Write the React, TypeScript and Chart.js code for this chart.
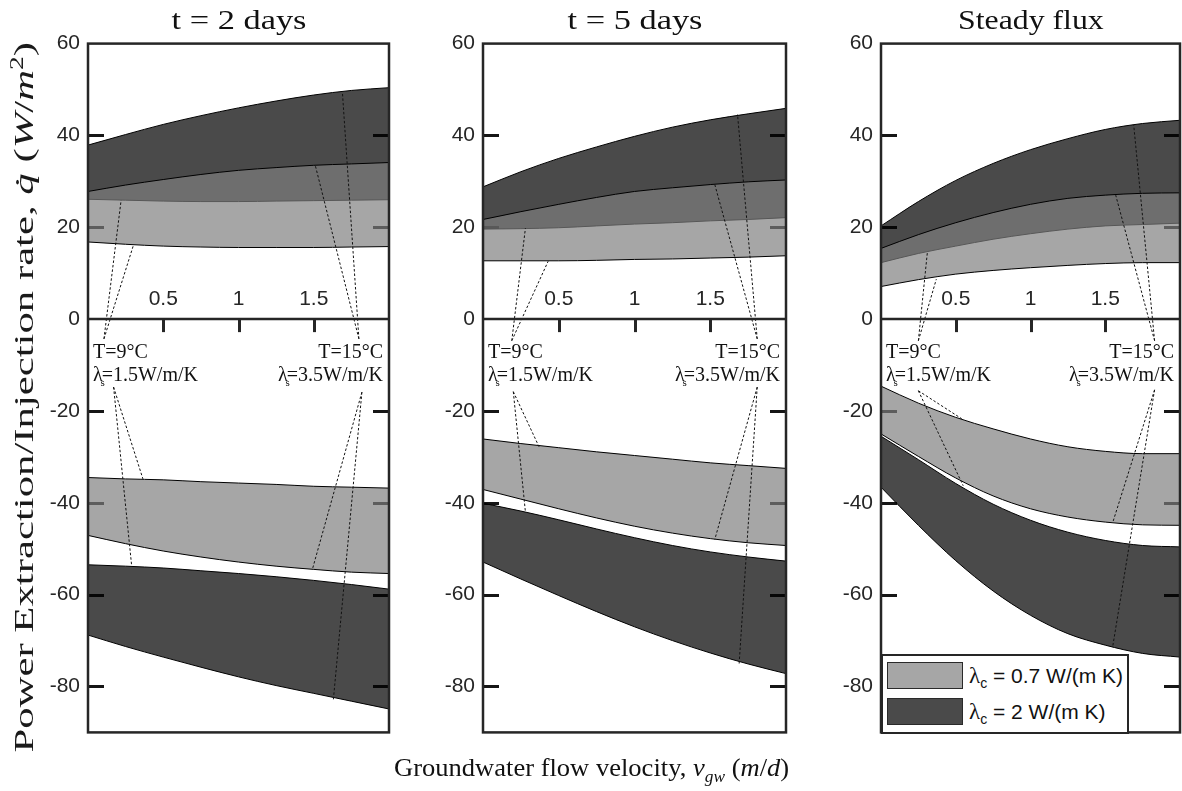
import React, { useEffect, useLayoutEffect, useRef } from "react";
import { Chart, registerables } from "chart.js";
Chart.register(...registerables);

// ---------- data ----------
const X_VALUES = [0, 0.25, 0.5, 0.75, 1, 1.25, 1.5, 1.75, 2];
const X_TICKS = [0.5, 1, 1.5];
const Y_TICKS = [-80, -60, -40, -20, 0, 20, 40, 60];
const Y_MIN = -90;
const Y_MAX = 60;

const TITLES = ["t = 2 days", "t = 5 days", "Steady flux"];

// t = 2 days
const P1_LIGHT_POS_UPPER = [27.8, 29.2, 30.4, 31.5, 32.4, 33.0, 33.5, 33.8, 34.1];
const P1_LIGHT_POS_LOWER = [16.8, 16.3, 15.9, 15.7, 15.6, 15.6, 15.6, 15.7, 15.8];
const P1_DARK_POS_UPPER = [37.9, 40.2, 42.4, 44.3, 46.0, 47.5, 48.8, 49.8, 50.4];
const P1_DARK_POS_LOWER = [26.1, 25.9, 25.7, 25.6, 25.6, 25.7, 25.8, 25.9, 26.0];
const P1_LIGHT_NEG_UPPER = [-34.5, -34.8, -35.0, -35.4, -35.7, -36.0, -36.4, -36.6, -36.8];
const P1_LIGHT_NEG_LOWER = [-47.1, -48.9, -50.5, -51.8, -52.9, -53.8, -54.5, -55.1, -55.4];
const P1_DARK_NEG_UPPER = [-53.5, -53.8, -54.2, -54.8, -55.4, -56.1, -56.9, -57.8, -58.8];
const P1_DARK_NEG_LOWER = [-68.8, -71.3, -73.6, -75.8, -77.9, -79.8, -81.5, -83.2, -84.9];

// t = 5 days
const P2_LIGHT_POS_UPPER = [21.7, 23.4, 25.0, 26.5, 27.8, 28.6, 29.3, 29.9, 30.3];
const P2_LIGHT_POS_LOWER = [12.7, 12.7, 12.7, 12.8, 13.0, 13.1, 13.3, 13.5, 13.8];
const P2_DARK_POS_UPPER = [28.8, 32.1, 35.0, 37.5, 39.8, 41.8, 43.4, 44.7, 45.9];
const P2_DARK_POS_LOWER = [19.6, 19.7, 19.9, 20.3, 20.7, 21.0, 21.4, 21.7, 22.1];
const P2_LIGHT_NEG_UPPER = [-26.1, -27.1, -28.0, -28.9, -29.7, -30.5, -31.3, -31.9, -32.5];
const P2_LIGHT_NEG_LOWER = [-37.1, -39.2, -41.3, -43.3, -45.1, -46.6, -47.8, -48.7, -49.3];
const P2_DARK_NEG_UPPER = [-40.1, -41.8, -43.7, -45.7, -47.6, -49.3, -50.7, -51.8, -52.7];
const P2_DARK_NEG_LOWER = [-52.9, -56.6, -60.2, -63.7, -67.0, -70.0, -72.7, -75.1, -77.2];

// steady flux
const P3_LIGHT_POS_UPPER = [15.4, 18.4, 21.0, 23.2, 25.0, 26.3, 27.0, 27.4, 27.5];
const P3_LIGHT_POS_LOWER = [7.1, 8.6, 9.8, 10.6, 11.2, 11.7, 12.1, 12.3, 12.3];
const P3_DARK_POS_UPPER = [20.3, 25.6, 30.2, 33.9, 36.9, 39.3, 41.3, 42.6, 43.3];
const P3_DARK_POS_LOWER = [12.3, 14.3, 15.9, 17.4, 18.6, 19.6, 20.3, 20.6, 20.9];
const P3_LIGHT_NEG_UPPER = [-14.6, -18.3, -21.4, -23.9, -26.1, -27.8, -28.8, -29.3, -29.3];
const P3_LIGHT_NEG_LOWER = [-25.0, -29.9, -34.6, -38.5, -41.3, -43.1, -44.2, -44.8, -44.9];
const P3_DARK_NEG_UPPER = [-25.5, -30.6, -35.8, -40.3, -43.8, -46.4, -48.2, -49.3, -49.6];
const P3_DARK_NEG_LOWER = [-36.6, -44.9, -52.6, -59.2, -64.5, -68.5, -71.0, -72.8, -73.6];

// leader lines: [xFrom, yFrom, xTo, yTo] in data units
const P1_LEADERS = [
  [0.106, -4.3, 0.22, 25.9], [0.106, -4.3, 0.30, 15.9],
  [0.17, -14.8, 0.365, -34.8], [0.17, -14.8, 0.29, -53.7],
  [1.80, -4.3, 1.51, 33.5], [1.80, -4.3, 1.69, 49.6],
  [1.82, -15.9, 1.49, -54.6], [1.82, -15.9, 1.63, -83.0],
];
const P2_LEADERS = [
  [0.19, -4.7, 0.28, 19.8], [0.19, -4.7, 0.43, 12.6],
  [0.20, -15.8, 0.37, -27.8], [0.20, -15.8, 0.28, -42.0],
  [1.81, -4.3, 1.53, 29.3], [1.81, -4.3, 1.68, 44.6],
  [1.81, -14.8, 1.53, -48.0], [1.81, -14.8, 1.69, -75.4],
];
const P3_LEADERS = [
  [0.25, -4.7, 0.31, 14.5], [0.25, -4.7, 0.37, 8.7],
  [0.25, -15.6, 0.54, -21.7], [0.25, -15.6, 0.55, -36.3],
  [1.83, -4.7, 1.57, 27.0], [1.83, -4.7, 1.69, 42.4],
  [1.83, -15.4, 1.55, -44.3], [1.83, -15.4, 1.55, -71.3],
];

const LABEL_T_LEFT = "T=9°C";
const LABEL_T_RIGHT = "T=15°C";
const LABEL_L_LEFT = "=1.5W/m/K";
const LABEL_L_RIGHT = "=3.5W/m/K";
const LABEL_T_Y = -8.5;
const LABEL_L_Y = -13.5;

const LEGEND_LABELS = ["0.7 W/(m K)", "2 W/(m K)"];

// ---------- styles ----------
const LIGHT_FILL = "rgba(126,126,126,0.69)";
const DARK_FILL = "rgba(0,0,0,0.71)";
const AXIS_COLOR = "#262626";
const TICK_COLOR = "#161616";

const PANELS = [
  {
    left: 88, width: 301, title: TITLES[0], titleW: 135, leaders: P1_LEADERS,
    series: [P1_LIGHT_POS_UPPER, P1_LIGHT_POS_LOWER, P1_LIGHT_NEG_UPPER, P1_LIGHT_NEG_LOWER,
      P1_DARK_POS_UPPER, P1_DARK_POS_LOWER, P1_DARK_NEG_UPPER, P1_DARK_NEG_LOWER],
  },
  {
    left: 483, width: 303, title: TITLES[1], titleW: 135, leaders: P2_LEADERS,
    series: [P2_LIGHT_POS_UPPER, P2_LIGHT_POS_LOWER, P2_LIGHT_NEG_UPPER, P2_LIGHT_NEG_LOWER,
      P2_DARK_POS_UPPER, P2_DARK_POS_LOWER, P2_DARK_NEG_UPPER, P2_DARK_NEG_LOWER],
  },
  {
    left: 881, width: 299, title: TITLES[2], titleW: 146, leaders: P3_LEADERS,
    series: [P3_LIGHT_POS_UPPER, P3_LIGHT_POS_LOWER, P3_LIGHT_NEG_UPPER, P3_LIGHT_NEG_LOWER,
      P3_DARK_POS_UPPER, P3_DARK_POS_LOWER, P3_DARK_NEG_UPPER, P3_DARK_NEG_LOWER],
  },
];

const PLOT_TOP = 43;
const PLOT_BOTTOM = 733;
const AXIS_W = 60;
const PAD_V = 20;
const PAD_R = 4;

function drawLambdaLabel(ctx: CanvasRenderingContext2D, x: number, y: number, rest: string, align: "left" | "right") {
  ctx.font = '20px "Liberation Serif"';
  const wl = ctx.measureText("λ").width;
  const wr = ctx.measureText(rest).width;
  ctx.font = '11px "Liberation Serif"';
  const ws = ctx.measureText("s").width;
  const total = wl + wr - 1;
  const x0 = align === "left" ? x : x - total;
  ctx.textAlign = "left";
  ctx.textBaseline = "alphabetic";
  ctx.font = '20px "Liberation Serif"';
  ctx.fillText("λ", x0, y);
  ctx.fillText(rest, x0 + wl - 1, y);
  ctx.font = '11px "Liberation Serif"';
  ctx.fillText("s", x0 + wl - ws * 0.5, y + 5);
}

function makePlugin(panel: any) {
  return {
    id: "matlabFrame",
    beforeDatasetsDraw(chart: any) {
      const { ctx, chartArea } = chart;
      const ys = chart.scales.y;
      ctx.save();
      ctx.strokeStyle = TICK_COLOR;
      ctx.lineWidth = 3;
      Y_TICKS.forEach((v) => {
        if (v === 0 || v === Y_MAX) return;
        const py = Math.round(ys.getPixelForValue(v)) + 0.5;
        ctx.beginPath();
        ctx.moveTo(chartArea.left, py);
        ctx.lineTo(chartArea.left + 16, py);
        ctx.moveTo(chartArea.right - 16, py);
        ctx.lineTo(chartArea.right, py);
        ctx.stroke();
      });
      ctx.restore();
    },
    afterDatasetsDraw(chart: any) {
      const { ctx, chartArea } = chart;
      const xs = chart.scales.x;
      const ys = chart.scales.y;
      const zeroY = ys.getPixelForValue(0);
      ctx.save();
      // leaders
      ctx.strokeStyle = "#111";
      ctx.lineWidth = 1;
      ctx.setLineDash([2.5, 2]);
      panel.leaders.forEach((l: number[]) => {
        ctx.beginPath();
        ctx.moveTo(xs.getPixelForValue(l[0]), ys.getPixelForValue(l[1]));
        ctx.lineTo(xs.getPixelForValue(l[2]), ys.getPixelForValue(l[3]));
        ctx.stroke();
      });
      ctx.setLineDash([]);
      // zero axis line and ticks
      ctx.strokeStyle = AXIS_COLOR;
      ctx.lineWidth = 2.5;
      ctx.beginPath();
      ctx.moveTo(chartArea.left, zeroY);
      ctx.lineTo(chartArea.right, zeroY);
      ctx.stroke();
      ctx.lineWidth = 3;
      X_TICKS.forEach((v) => {
        const px = Math.round(xs.getPixelForValue(v)) + 0.5;
        ctx.beginPath();
        ctx.moveTo(px, zeroY);
        ctx.lineTo(px, zeroY + 13);
        ctx.stroke();
      });
      // x tick labels
      ctx.fillStyle = AXIS_COLOR;
      ctx.font = '21px "Liberation Sans"';
      ctx.textAlign = "center";
      ctx.textBaseline = "middle";
      X_TICKS.forEach((v) => {
        ctx.fillText(String(v), xs.getPixelForValue(v), zeroY - 20);
      });
      // annotation texts
      ctx.fillStyle = "#111";
      ctx.font = '20px "Liberation Serif"';
      ctx.textBaseline = "alphabetic";
      const tY = ys.getPixelForValue(LABEL_T_Y);
      const lY = ys.getPixelForValue(LABEL_L_Y);
      ctx.textAlign = "left";
      ctx.fillText(LABEL_T_LEFT, chartArea.left + 5, tY);
      ctx.textAlign = "right";
      ctx.fillText(LABEL_T_RIGHT, chartArea.right - 6, tY);
      drawLambdaLabel(ctx, chartArea.left + 5, lY, LABEL_L_LEFT, "left");
      drawLambdaLabel(ctx, chartArea.right - 6, lY, LABEL_L_RIGHT, "right");
      // frame
      ctx.strokeStyle = AXIS_COLOR;
      ctx.lineWidth = 2.5;
      ctx.strokeRect(chartArea.left, chartArea.top, chartArea.right - chartArea.left, chartArea.bottom - chartArea.top);
      ctx.restore();
    },
  };
}

function PanelChart({ panel }: { panel: any }) {
  const ref = useRef<HTMLCanvasElement>(null);
  const cw = AXIS_W + panel.width + PAD_R;
  const ch = PLOT_BOTTOM - PLOT_TOP + 2 * PAD_V;
  useEffect(() => {
    const canvas = ref.current!;
    const pts = (arr: number[]) => X_VALUES.map((x, i) => ({ x, y: arr[i] }));
    const s = panel.series;
    const mk = (arr: number[], fill: any, bg: string) => ({
      data: pts(arr),
      borderColor: "#000",
      borderWidth: 1,
      pointRadius: 0,
      cubicInterpolationMode: "monotone",
      fill,
      backgroundColor: bg,
    });
    const chart = new Chart(canvas, {
      type: "line",
      data: {
        datasets: [
          mk(s[0], false, LIGHT_FILL),
          mk(s[1], "-1", LIGHT_FILL),
          mk(s[2], false, LIGHT_FILL),
          mk(s[3], "-1", LIGHT_FILL),
          mk(s[4], false, DARK_FILL),
          mk(s[5], "-1", DARK_FILL),
          mk(s[6], false, DARK_FILL),
          mk(s[7], "-1", DARK_FILL),
        ] as any,
      },
      options: {
        responsive: false,
        animation: false,
        devicePixelRatio: 1,
        layout: { padding: { top: PAD_V, bottom: PAD_V, left: 0, right: PAD_R } },
        plugins: { legend: { display: false }, tooltip: { enabled: false }, title: { display: false } },
        scales: {
          x: { type: "linear", min: 0, max: 2, display: false },
          y: {
            type: "linear",
            min: Y_MIN,
            max: Y_MAX,
            grid: { display: false, drawTicks: false },
            border: { display: false },
            afterBuildTicks: (scale: any) => {
              scale.ticks = Y_TICKS.map((v) => ({ value: v }));
            },
            afterFit: (scale: any) => {
              scale.width = AXIS_W;
            },
            ticks: {
              padding: 8,
              color: AXIS_COLOR,
              font: { family: "Liberation Sans", size: 21 },
              callback: (v: any) => String(v),
            },
          },
        },
      } as any,
      plugins: [makePlugin(panel)],
    });
    return () => chart.destroy();
  }, []);
  return (
    <canvas
      ref={ref}
      width={cw}
      height={ch}
      style={{ position: "absolute", left: panel.left - AXIS_W, top: PLOT_TOP - PAD_V, width: cw, height: ch }}
    />
  );
}

// stretches its text horizontally so that it spans the target width
function FitText({ target, children }: { target: number; children: any }) {
  const ref = useRef<HTMLSpanElement>(null);
  useLayoutEffect(() => {
    const el = ref.current!;
    el.style.transform = "none";
    const w = el.offsetWidth;
    if (w > 0) el.style.transform = `scaleX(${target / w})`;
  }, []);
  return (
    <span ref={ref} style={{ display: "inline-block", whiteSpace: "nowrap", transformOrigin: "center" }}>
      {children}
    </span>
  );
}

export default function App() {
  const serif = '"Liberation Serif", serif';
  return (
    <div style={{ position: "fixed", left: 0, top: 0, width: 1182, height: 791, background: "#fff", overflow: "hidden" }}>
      {PANELS.map((p, i) => (
        <React.Fragment key={i}>
          <PanelChart panel={p} />
          <div
            style={{
              position: "absolute", left: p.left, width: p.width, top: 5, height: 30, lineHeight: "30px",
              textAlign: "center", fontFamily: serif, fontSize: 27, color: "#111",
            }}
          >
            <FitText target={p.titleW}>{p.title}</FitText>
          </div>
        </React.Fragment>
      ))}
      {/* y label */}
      <div
        style={{
          position: "absolute", left: 24 - 380, top: 397 - 18, width: 760, height: 36, lineHeight: "36px",
          textAlign: "center", transform: "rotate(-90deg)", fontFamily: serif, fontSize: 28, color: "#1a1a1a",
        }}
      >
        <FitText target={710}>
          Power Extraction/Injection rate, <i>q̇</i> (<i>W</i>/<i>m</i><sup style={{ fontSize: 18, lineHeight: 0 }}>2</sup>)
        </FitText>
      </div>
      {/* x label */}
      <div
        style={{
          position: "absolute", left: 292, width: 600, top: 752, height: 32, lineHeight: "32px",
          textAlign: "center", fontFamily: serif, fontSize: 26, color: "#111",
        }}
      >
        <FitText target={395}>
          Groundwater flow velocity, <i>v</i><sub style={{ fontSize: 17, lineHeight: 0 }}><i>gw</i></sub> (<i>m</i>/<i>d</i>)
        </FitText>
      </div>
      {/* legend */}
      <div
        style={{
          position: "absolute", left: 881, top: 654, width: 248, height: 80, boxSizing: "border-box",
          border: "2.5px solid " + AXIS_COLOR, background: "#fff",
        }}
      >
        {LEGEND_LABELS.map((lab, i) => (
          <div key={i} style={{ position: "absolute", left: 4, top: 6 + i * 36, height: 27, width: 240 }}>
            <div
              style={{
                position: "absolute", left: 0, top: 0, width: 76, height: 27, boxSizing: "border-box",
                border: "1.3px solid #2a2a2a", background: i === 0 ? "#a6a6a6" : "#4a4a4a",
              }}
            />
            <div
              style={{
                position: "absolute", left: 82, top: 0, height: 27, lineHeight: "27px", whiteSpace: "nowrap",
                fontFamily: '"Liberation Sans", sans-serif', fontSize: 21, color: "#111",
              }}
            >
              <span style={{ fontFamily: serif, fontSize: 23 }}>λ</span>
              <sub style={{ fontSize: 14, lineHeight: 0 }}>c</sub> = {lab}
            </div>
          </div>
        ))}
      </div>
    </div>
  );
}
